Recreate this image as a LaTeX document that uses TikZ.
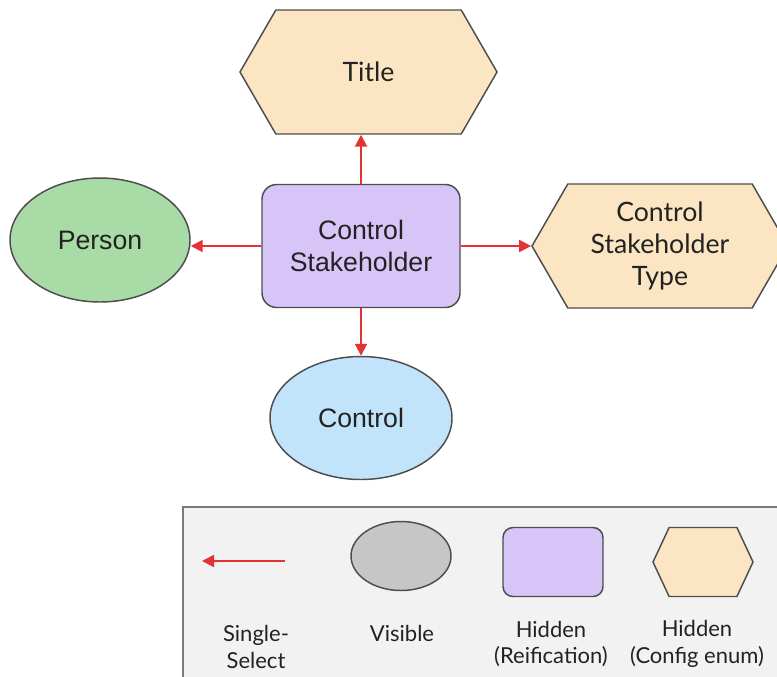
\documentclass[tikz,border=0pt]{standalone}
\usepackage{fontspec}
\setmainfont{Liberation Sans}
\newfontfamily\latofont{Lato}
\usetikzlibrary{shapes.geometric,shapes.symbols,arrows.meta}

\definecolor{edgegray}{HTML}{4D4D4D}
\definecolor{textdark}{HTML}{222222}
\definecolor{selectred}{HTML}{E53333}
\definecolor{configfill}{HTML}{FCE5C2}
\definecolor{hiddenfill}{HTML}{D7C5F7}
\definecolor{personfill}{HTML}{A8DBA5}
\definecolor{controlfill}{HTML}{C2E4FB}
\definecolor{visiblefill}{HTML}{C6C6C6}
\definecolor{legendfill}{HTML}{F2F2F2}
\definecolor{legendedge}{HTML}{7A7A7A}

\tikzset{
  entity/.style={draw=edgegray, line width=1.1pt, text=textdark, align=center, inner sep=0pt,
    font=\fontsize{20}{24}\selectfont},
  visible/.style={entity, ellipse},
  hidden/.style={entity, rounded corners=11pt},
  config/.style={entity, signal, signal to=east and west, signal pointer angle=120,
    font=\latofont\fontsize{20}{24}\selectfont},
  select/.style={draw=selectred, line width=1.5pt, -{Triangle[length=9pt,width=9pt]}},
  legendtext/.style={text=textdark, align=center, font=\latofont\fontsize{16.5}{20}\selectfont},
}

\begin{document}
\begin{tikzpicture}[x=0.75pt,y=-0.75pt]
\useasboundingbox (0,0) rectangle (777,676);
\clip (0,0) rectangle (777,676);

\node[hidden, fill=hiddenfill, minimum width=148.5pt, minimum height=92.25pt] (stakeholder) at (361,246) {Control\\Stakeholder};
\node[config, fill=configfill, minimum width=192.75pt, minimum height=93pt] (title) at (368.5,72) {Title};
\node[visible, fill=personfill, minimum width=135pt, minimum height=93pt] (person) at (100,240) {Person};
\node[config, fill=configfill, minimum width=192pt, minimum height=93pt] (type) at (660,246) {Control\\Stakeholder\\Type};
\node[visible, fill=controlfill, minimum width=136.5pt, minimum height=92.25pt] (control) at (361,418) {Control};

\draw[select] (stakeholder.north) -- (stakeholder.north |- title.south);
\draw[select] (stakeholder.west) -- (stakeholder.west -| person.east);
\draw[select] (stakeholder.east) -- (type.west);
\draw[select] (stakeholder.south) -- (control.north);

\filldraw[fill=legendfill, draw=legendedge, line width=1.1pt] (183,507) rectangle (800,700);

\coordinate (keyfrom) at (285,561);
\coordinate (keyto) at (202,561);
\draw[select] (keyfrom) -- (keyto);
\node[visible, fill=visiblefill, minimum width=75pt, minimum height=51.75pt] (keyvisible) at (401,556) {};
\node[hidden, fill=hiddenfill, rounded corners=7.5pt, minimum width=75pt, minimum height=51.75pt] (keyhidden) at (553,562) {};
\node[config, fill=configfill, signal pointer angle=130, minimum width=75pt, minimum height=51.75pt] (keyconfig) at (703,562) {};

\node[legendtext] (keyselecttext) at (256,647) {Single-\\Select};
\node[legendtext] (keyvisibletext) at (402,633) {Visible};
\node[legendtext] (keyhiddentext) at (551,644) {Hidden\\(Reification)};
\node[legendtext] (keyconfigtext) at (697,644) {Hidden\\(Config enum)};

\end{tikzpicture}
\end{document}
